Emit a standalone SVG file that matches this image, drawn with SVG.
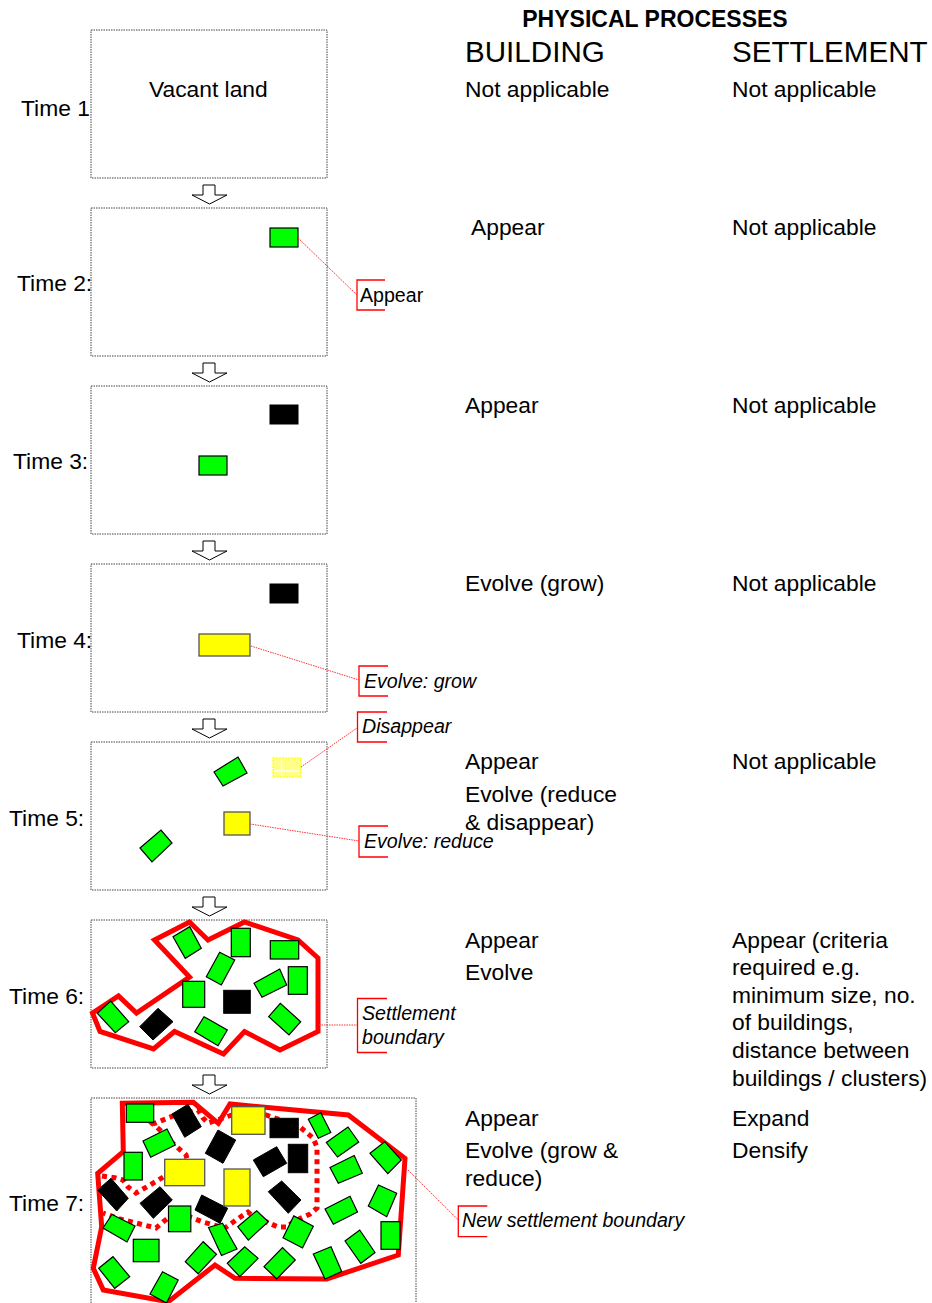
<svg xmlns="http://www.w3.org/2000/svg" width="932" height="1303" viewBox="0 0 932 1303">
  <style>
    .t { font-family: "Liberation Sans", Arial, sans-serif; font-size: 22.8px; fill: #000; }
    .h { font-family: "Liberation Sans", Arial, sans-serif; font-size: 29.6px; fill: #000; }
    .hb { font-family: "Liberation Sans", Arial, sans-serif; font-size: 23px; font-weight: bold; fill: #000; }
    .c { font-family: "Liberation Sans", Arial, sans-serif; font-size: 19.6px; fill: #000; }
    .ci { font-family: "Liberation Sans", Arial, sans-serif; font-size: 19.6px; font-style: italic; fill: #000; }
    .frame { fill: #fff; stroke: #444; stroke-width: 1; stroke-dasharray: 1.5 1; }
    .g { fill: #00ff00; stroke: #000; stroke-width: 1.2; }
    .k { fill: #000; stroke: #000; stroke-width: 1; }
    .y { fill: #ffff00; stroke: #555; stroke-width: 1.3; }
    .bnd { fill: none; stroke: #ff0000; stroke-width: 5; stroke-linejoin: miter; }
    .old { fill: none; stroke: #ff0000; stroke-width: 5; stroke-dasharray: 5 4.5; }
    .lead { fill: none; stroke: #ff3030; stroke-width: 1; stroke-dasharray: 1.5 1; }
    .brk { fill: none; stroke: #ff0000; stroke-width: 1.3; }
    .arr { fill: #fff; stroke: #000; stroke-width: 1; }
  </style>
  <defs>
    <polygon id="downArrow" class="arr" points="203,0 215,0 215,10 227,10 209.5,19 192,10 203,10"/>
  </defs>

  <!-- column headings -->
  <g id="headings">
    <text class="hb" x="655" y="27" text-anchor="middle">PHYSICAL PROCESSES</text>
    <text class="h" x="465" y="62">BUILDING</text>
    <text class="h" x="732" y="62">SETTLEMENT</text>
  </g>

  <!-- step arrows between time frames -->
  <g id="connectors">
    <use href="#downArrow" y="185"/>
    <use href="#downArrow" y="363"/>
    <use href="#downArrow" y="541"/>
    <use href="#downArrow" y="719"/>
    <use href="#downArrow" y="897"/>
    <use href="#downArrow" y="1075"/>
  </g>

  <!-- Time 1 -->
  <g id="time1">
    <rect class="frame" x="91" y="30" width="236" height="148"/>
    <text class="t" x="149" y="97">Vacant land</text>
    <text class="t" x="21" y="116">Time 1</text>
    <text class="t" x="465" y="97">Not applicable</text>
    <text class="t" x="732" y="97">Not applicable</text>
  </g>

  <!-- Time 2 -->
  <g id="time2">
    <rect class="frame" x="91" y="208" width="236" height="148"/>
    <rect class="g" x="270" y="228" width="28" height="19"/>
    <text class="t" x="17" y="291">Time 2:</text>
    <text class="t" x="471" y="235">Appear</text>
    <text class="t" x="732" y="235">Not applicable</text>
    <line class="lead" x1="298" y1="238" x2="357" y2="295"/>
    <path class="brk" d="M385,280 H357 V310 H385"/>
    <text class="c" x="360" y="302">Appear</text>
  </g>

  <!-- Time 3 -->
  <g id="time3">
    <rect class="frame" x="91" y="386" width="236" height="148"/>
    <rect class="k" x="270" y="405" width="28" height="19"/>
    <rect class="g" x="199" y="456" width="28" height="19"/>
    <text class="t" x="13" y="469">Time 3:</text>
    <text class="t" x="465" y="413">Appear</text>
    <text class="t" x="732" y="413">Not applicable</text>
  </g>

  <!-- Time 4 -->
  <g id="time4">
    <rect class="frame" x="91" y="564" width="236" height="148"/>
    <rect class="k" x="270" y="584" width="28" height="19"/>
    <rect class="y" x="199" y="634" width="51" height="22"/>
    <text class="t" x="17" y="648">Time 4:</text>
    <text class="t" x="465" y="591">Evolve (grow)</text>
    <text class="t" x="732" y="591">Not applicable</text>
    <line class="lead" x1="251" y1="646" x2="359" y2="680"/>
    <path class="brk" d="M388,666 H359 V696 H388"/>
    <text class="ci" x="364" y="688">Evolve: grow</text>
  </g>

  <!-- Time 5 -->
  <g id="time5">
    <rect class="frame" x="91" y="742" width="236" height="148"/>
    <polygon class="g" points="214,772 238,757 247,773 223,786"/>
    <polygon class="g" points="140,848 161,830 172,843 152,862"/>
    <rect class="y" x="224" y="812" width="26" height="23"/>
    <!-- vanished building -->
    <rect x="273" y="758" width="28" height="19" fill="#ffff88" stroke="#ffff00" stroke-width="1.2" stroke-dasharray="2 1"/>
    <line x1="281.5" y1="759" x2="281.5" y2="776" stroke="#fff" stroke-width="1.3"/>
    <line x1="274" y1="771" x2="300" y2="771" stroke="#fff" stroke-width="1.3"/>
    <text class="t" x="9" y="826">Time 5:</text>
    <text class="t" x="465" y="769">Appear</text>
    <text class="t" x="465" y="802">Evolve (reduce</text>
    <text class="t" x="465" y="830">&amp; disappear)</text>
    <text class="t" x="732" y="769">Not applicable</text>
    <line class="lead" x1="301" y1="767" x2="357" y2="728"/>
    <path class="brk" d="M387,712 H357.5 V742 H387"/>
    <text class="ci" x="362" y="733">Disappear</text>
    <line class="lead" x1="250" y1="824" x2="359" y2="841"/>
    <path class="brk" d="M388,826 H359 V857 H388"/>
    <text class="ci" x="364" y="848">Evolve: reduce</text>
  </g>

  <!-- Time 6 -->
  <g id="time6">
    <rect class="frame" x="91" y="920" width="236" height="148"/>
    <polygon class="bnd" points="92.5,1013 118.5,996 136.5,1013 189.5,977 154.5,940 189.5,922 208,940 244.5,922 298,940 318,958 318,1031.5 280,1050 244.5,1031.5 223.5,1054 174.5,1031.5 153.5,1049 100,1031.5"/>
    <polygon class="g" points="173,936.7 189.7,926.7 201.3,948.3 185.3,958.3"/>
    <rect class="g" x="231.3" y="928.3" width="19" height="28.4"/>
    <rect class="g" x="270.3" y="940.7" width="28.4" height="18.3"/>
    <polygon class="g" points="206.3,976.7 219.7,952.3 234.7,960 221.3,985"/>
    <rect class="g" x="288.3" y="966.7" width="19" height="27.6"/>
    <polygon class="g" points="254,983.3 279.7,969 286.7,985 262,997.3"/>
    <rect class="g" x="182.7" y="981.3" width="22" height="26"/>
    <rect class="k" x="223.7" y="990.3" width="26.6" height="23"/>
    <polygon class="g" points="268.7,1016.7 280.3,1003.3 300.7,1021.7 289,1035"/>
    <polygon class="g" points="97.3,1013.3 110.7,1001 128.7,1021.7 115.3,1032.7"/>
    <polygon class="k" points="139.7,1026.7 158,1008.3 173,1021.7 153,1040"/>
    <polygon class="g" points="194.7,1031.7 204,1016.7 227.3,1030 218,1045.7"/>
    <text class="t" x="9" y="1004">Time 6:</text>
    <text class="t" x="465" y="948">Appear</text>
    <text class="t" x="465" y="980">Evolve</text>
    <text class="t" x="732" y="948">Appear (criteria</text>
    <text class="t" x="732" y="975">required e.g.</text>
    <text class="t" x="732" y="1003">minimum size, no.</text>
    <text class="t" x="732" y="1030">of buildings,</text>
    <text class="t" x="732" y="1058">distance between</text>
    <text class="t" x="732" y="1086">buildings / clusters)</text>
    <line class="lead" x1="319" y1="1025" x2="357.5" y2="1025"/>
    <path class="brk" d="M387,998.5 H357.5 V1052.5 H387"/>
    <text class="ci" x="362" y="1020">Settlement</text>
    <text class="ci" x="362" y="1044">boundary</text>
  </g>

  <!-- Time 7 -->
  <g id="time7">
    <rect class="frame" x="91" y="1098" width="325" height="215"/>
    <!-- earlier settlement boundary -->
    <path class="old" d="M102,1176 L116,1178 L123,1180 L128,1187 L136,1193 L150,1185 L165,1176 L180,1167 L188,1162 L186,1155 L178,1148 L166,1137 L160,1130 L153,1124 L173,1116 L198,1110 L203,1118 L208,1123 L232,1115 L266,1115 L275,1118 L300,1127 L313,1138 L317,1147 L317,1208 L310,1214 L301,1218 L293,1222 L287,1227 L278,1227 L262,1220 L253,1216 L248,1212 L236,1220 L225,1228 L203,1222 L185,1215 L176,1212 L163,1222 L156,1228 L140,1224 L120,1219 L103,1213"/>
    <!-- current settlement boundary -->
    <polygon class="bnd" stroke-width="5.5" points="122.3,1103.3 193.3,1102.3 218.3,1123.3 230,1104 348.3,1115 405,1158.3 398.3,1255 326.7,1279 235,1278.3 215,1265 168.3,1301.7 103.3,1290 93.3,1268.3 101.7,1226.7 97.7,1173.3 123.3,1151.7"/>
    <!-- green buildings -->
    <rect class="g" x="126.3" y="1104" width="27.4" height="18.3"/>
    <polygon class="g" points="143,1141 167,1129 175.3,1145 150.7,1157.3"/>
    <rect class="g" x="124" y="1152.3" width="18.3" height="27.7"/>
    <polygon class="g" points="103,1228 112,1214.5 135,1226 127,1242"/>
    <rect class="g" x="133.3" y="1239.3" width="25.7" height="22.4"/>
    <polygon class="g" points="98.7,1268.3 113,1256.7 129.7,1276.7 114.7,1288.3"/>
    <polygon class="g" points="150,1294 162.5,1271.7 178.2,1280 166.5,1303"/>
    <rect class="g" x="168.5" y="1206" width="22.3" height="25.7"/>
    <polygon class="g" points="208.5,1227.5 222.5,1223.3 237,1249 221.5,1255.5"/>
    <polygon class="g" points="185.3,1261.7 203.2,1241.7 216.5,1254.2 198.2,1273.8"/>
    <polygon class="g" points="237.7,1226.7 256.7,1210.7 268.3,1221.7 248.3,1240"/>
    <polygon class="g" points="227.3,1263.3 244.7,1246.7 258,1258.3 239.7,1276.7"/>
    <polygon class="g" points="264,1266.7 282.5,1247.5 295.3,1260 276.7,1278.8"/>
    <polygon class="g" points="283,1237.7 293.8,1215.9 313.3,1226.3 302.5,1248"/>
    <polygon class="g" points="313.3,1254 331,1246.7 341.7,1271.5 325,1279"/>
    <polygon class="g" points="325,1209 350,1196.3 357.5,1212 333.3,1224.3"/>
    <polygon class="g" points="345,1241 359.7,1230 375,1252.5 360.8,1263.3"/>
    <polygon class="g" points="368.3,1206 378.5,1185 396.7,1193.3 386.7,1216.7"/>
    <rect class="g" x="381" y="1221.7" width="19" height="27.6"/>
    <polygon class="g" points="308.3,1119.2 320.8,1112.8 330.8,1132.5 318.3,1138.3"/>
    <polygon class="g" points="326.3,1142.5 348,1127 358.7,1142 337.5,1157"/>
    <polygon class="g" points="370,1153.3 384.7,1141.7 401.3,1160 387.8,1173.7"/>
    <polygon class="g" points="330,1167.5 354.2,1155.5 362.3,1173.3 338.3,1183.3"/>
    <!-- black buildings -->
    <polygon class="k" points="172,1114 188,1104.3 201.3,1126.7 184.7,1137.3"/>
    <polygon class="k" points="205.3,1153.3 218,1130 235.7,1140 223,1163.3"/>
    <rect class="k" x="270" y="1118.3" width="28.3" height="19.4"/>
    <polygon class="k" points="253.3,1160 276.7,1146.7 286.7,1163.3 263.3,1176.7"/>
    <rect class="k" x="288.3" y="1144.3" width="19.4" height="28.4"/>
    <polygon class="k" points="268.3,1191.7 281.7,1181 301,1200 288.3,1213.3"/>
    <polygon class="k" points="97.7,1190 111,1178.3 128.3,1198.3 116.7,1211"/>
    <polygon class="k" points="140,1203.3 160,1186.7 172.3,1200 153.3,1218.3"/>
    <polygon class="k" points="195,1210 201.7,1195 227.7,1208.3 220,1223.3"/>
    <!-- yellow buildings -->
    <rect class="y" x="231.7" y="1106.7" width="33.3" height="27.6"/>
    <rect class="y" x="164.7" y="1159.3" width="40" height="26.4"/>
    <rect class="y" x="224" y="1169" width="26" height="37"/>
    <text class="t" x="9" y="1211">Time 7:</text>
    <text class="t" x="465" y="1126">Appear</text>
    <text class="t" x="465" y="1158">Evolve (grow &amp;</text>
    <text class="t" x="465" y="1186">reduce)</text>
    <text class="t" x="732" y="1126">Expand</text>
    <text class="t" x="732" y="1158">Densify</text>
    <line class="lead" x1="408" y1="1170" x2="458.3" y2="1220"/>
    <path class="brk" d="M487.3,1206 H458.3 V1236.7 H487.3"/>
    <text class="ci" x="462" y="1227">New settlement boundary</text>
  </g>
</svg>
